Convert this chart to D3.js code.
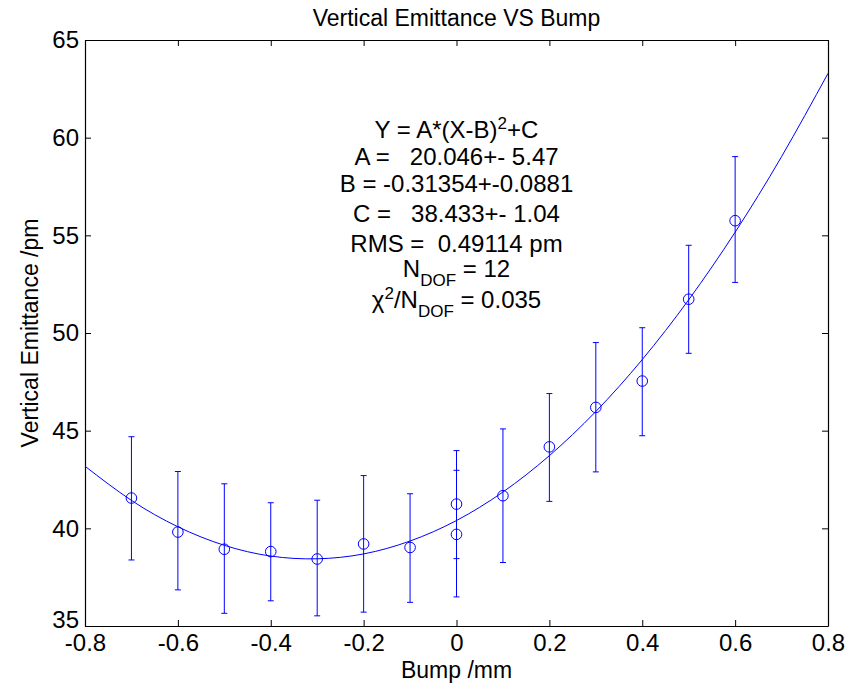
<!DOCTYPE html>
<html>
<head>
<meta charset="utf-8">
<script src="https://cdn.jsdelivr.net/npm/d3@7"></script>
<style>
  body { margin: 0; background: #fff; }
  text { font-family: "Liberation Sans", Arial, sans-serif; fill: #000; }
</style>
</head>
<body>
<div class="chart"></div>
<script>
var svgWidth = 859;
var svgHeight = 686;

var margin = { top: 40, right: 31, bottom: 60, left: 85 };
var width = svgWidth - margin.left - margin.right;
var height = svgHeight - margin.top - margin.bottom;

// measured points (bump in mm, emittance in pm)
var bump = [-0.7, -0.6, -0.5, -0.4, -0.3, -0.2, -0.1, 0, 0, 0.1, 0.2, 0.3, 0.4, 0.5, 0.6];
var emittance = [41.55, 39.81, 38.93, 38.81, 38.43, 39.2, 39.02, 41.24, 39.69, 41.67, 44.17, 46.19, 47.54, 51.73, 55.75];
var errLow = [38.38, 36.85, 35.65, 36.29, 35.52, 35.71, 36.21, 38.45, 36.49, 38.25, 41.38, 42.89, 44.74, 48.96, 52.59];
var errHigh = [44.69, 42.91, 42.28, 41.31, 41.44, 42.70, 41.77, 43.98, 42.97, 45.09, 46.90, 49.51, 50.27, 54.49, 59.03];

// fitted parabola
var fitX = [-0.8, -0.7, -0.6, -0.5, -0.4, -0.3, -0.2, -0.1, 0, 0.1, 0.2, 0.3, 0.4, 0.5, 0.6, 0.7, 0.8];
var fitY = [43.18, 41.43, 40.08, 39.13, 38.58, 38.44, 38.69, 39.35, 40.40, 41.86, 43.72, 45.98, 48.64, 51.70, 55.16, 59.03, 63.29];

var xTicks = [-0.8, -0.6, -0.4, -0.2, 0, 0.2, 0.4, 0.6, 0.8];
var yTicks = [35, 40, 45, 50, 55, 60, 65];

var blue = "#0000ff";

var svg = d3.select(".chart")
    .append("svg")
    .attr("width", svgWidth)
    .attr("height", svgHeight);

var chartGroup = svg.append("g")
    .attr("transform", `translate(${margin.left}, ${margin.top})`);

var x = d3.scaleLinear().domain([-0.8, 0.8]).range([0, width]);
var y = d3.scaleLinear().domain([35, 65]).range([height, 0]);

// axes, ticks drawn inward like matlab (plain hyphen for minus)
var fmt = d => String(d);
chartGroup.append("g")
    .attr("transform", `translate(0, ${height})`)
    .call(d3.axisBottom(x).tickValues(xTicks).tickSizeInner(-6).tickSizeOuter(0).tickPadding(8).tickFormat(fmt));
chartGroup.append("g")
    .call(d3.axisTop(x).tickValues(xTicks).tickSizeInner(-6).tickSizeOuter(0).tickFormat(""));
var yAxisG = chartGroup.append("g")
    .call(d3.axisLeft(y).tickValues(yTicks).tickSizeInner(-6).tickSizeOuter(0).tickPadding(6).tickFormat(fmt));
chartGroup.append("g")
    .attr("transform", `translate(${width}, 0)`)
    .call(d3.axisRight(y).tickValues(yTicks).tickSizeInner(-6).tickSizeOuter(0).tickFormat(""));

chartGroup.selectAll(".domain").attr("stroke", "#000").attr("stroke-width", 1.2);
chartGroup.selectAll(".tick line").attr("stroke", "#000");
chartGroup.selectAll(".tick text")
    .style("font-size", "24px")
    .style("font-family", "'Liberation Sans', Arial, sans-serif")
    .attr("fill", "#000");

// lift the lowest y label a touch so it clears the x labels
yAxisG.selectAll(".tick text").filter(d => d === 35).attr("y", -6);

// fit curve
var fitData = fitX.map((v, i) => ({ x: v, y: fitY[i] }));
chartGroup.append("path")
    .datum(fitData)
    .attr("fill", "none")
    .attr("stroke", blue)
    .attr("stroke-width", 1)
    .attr("d", d3.line().x(d => x(d.x)).y(d => y(d.y)).curve(d3.curveNatural));

// error bars
var points = bump.map((v, i) => ({ x: v, y: emittance[i], lo: errLow[i], hi: errHigh[i] }));
var bars = chartGroup.selectAll(".err")
    .data(points)
    .enter()
    .append("g")
    .attr("class", "err")
    .attr("stroke", blue)
    .attr("stroke-width", 1);
bars.append("line")
    .attr("x1", d => x(d.x)).attr("x2", d => x(d.x))
    .attr("y1", d => y(d.lo)).attr("y2", d => y(d.hi));
bars.append("line")
    .attr("x1", d => x(d.x) - 3).attr("x2", d => x(d.x) + 3)
    .attr("y1", d => y(d.lo)).attr("y2", d => y(d.lo));
bars.append("line")
    .attr("x1", d => x(d.x) - 3).attr("x2", d => x(d.x) + 3)
    .attr("y1", d => y(d.hi)).attr("y2", d => y(d.hi));

// markers
chartGroup.selectAll("circle")
    .data(points)
    .enter()
    .append("circle")
    .attr("cx", d => x(d.x))
    .attr("cy", d => y(d.y))
    .attr("r", 5.3)
    .attr("fill", "none")
    .attr("stroke", blue)
    .attr("stroke-width", 1);

// title and axis labels
svg.append("text")
    .attr("x", margin.left + width / 2)
    .attr("y", 26)
    .attr("text-anchor", "middle")
    .style("font-size", "23px")
    .text("Vertical Emittance VS Bump");

svg.append("text")
    .attr("x", margin.left + width / 2)
    .attr("y", 678)
    .attr("text-anchor", "middle")
    .style("font-size", "23px")
    .text("Bump /mm");

svg.append("text")
    .attr("transform", `translate(38, ${margin.top + height / 2}) rotate(-90)`)
    .attr("text-anchor", "middle")
    .style("font-size", "23px")
    .text("Vertical Emittance /pm");

// fit annotation
var cx = margin.left + x(0);
var note = svg.append("g")
    .attr("text-anchor", "middle")
    .style("font-size", "24px");

function line(yPos) {
    return note.append("text").attr("x", cx).attr("y", yPos).attr("xml:space", "preserve").style("white-space", "pre");
}
var t1 = line(138);
t1.append("tspan").text("Y = A*(X-B)");
t1.append("tspan").attr("dy", -9).style("font-size", "17px").text("2");
t1.append("tspan").attr("dy", 9).text("+C");

line(165).text("A =   20.046+- 5.47");
line(192).text("B = -0.31354+-0.0881");
line(222).text("C =   38.433+- 1.04");
line(252).text("RMS =  0.49114 pm");

var t6 = line(277);
t6.append("tspan").text("N");
t6.append("tspan").attr("dy", 9).style("font-size", "17px").text("DOF");
t6.append("tspan").attr("dy", -9).text(" = 12");

var t7 = line(308);
t7.append("tspan").text("\u03c7");
t7.append("tspan").attr("dy", -9).style("font-size", "17px").text("2");
t7.append("tspan").attr("dy", 9).text("/N");
t7.append("tspan").attr("dy", 9).style("font-size", "17px").text("DOF");
t7.append("tspan").attr("dy", -9).text(" = 0.035");
</script>
</body>
</html>
